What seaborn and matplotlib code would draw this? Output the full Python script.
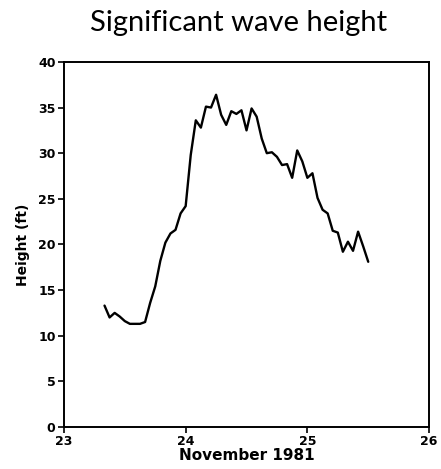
import numpy as np
import pandas as pd
import matplotlib
matplotlib.use("Agg")
import matplotlib.pyplot as plt
import seaborn as sns

# hours since 00:00 Nov 23, 1981
hours = list(range(8, 61))
height_ft = [13.3, 12.0, 12.5, 12.1, 11.6, 11.3, 11.3, 11.3, 11.5, 13.6,
             15.4, 18.2, 20.2, 21.2, 21.6, 23.4, 24.2, 29.8, 33.6, 32.8,
             35.1, 35.0, 36.4, 34.2, 33.1, 34.6, 34.3, 34.7, 32.5, 34.9,
             34.0, 31.6, 30.0, 30.1, 29.6, 28.7, 28.8, 27.3, 30.3, 29.1,
             27.3, 27.8, 25.1, 23.8, 23.4, 21.5, 21.3, 19.2, 20.3, 19.3,
             21.4, 19.8, 18.1]
x_ticks = [23, 24, 25, 26]
y_ticks = [0, 5, 10, 15, 20, 25, 30, 35, 40]

df = pd.DataFrame({"day": [23 + h / 24 for h in hours], "height": height_ft})

sns.set_style("ticks")
plt.rcParams['font.family'] = ['DejaVu Sans']
plt.rcParams['text.color'] = 'black'
plt.rcParams['axes.labelcolor'] = 'black'

fig = plt.figure(figsize=(4.41, 4.69), dpi=100)
ax = fig.add_axes([0.145, 0.0896, 0.828, 0.7784])
sns.lineplot(data=df, x="day", y="height", ax=ax, color="black", linewidth=1.7)

ax.set_xlim(23, 26)
ax.set_ylim(0, 40)
ax.set_xticks(x_ticks)
ax.set_yticks(y_ticks)
ax.set_xticklabels([str(t) for t in x_ticks], fontsize=9, fontweight="bold")
ax.set_yticklabels([str(t) for t in y_ticks], fontsize=9, fontweight="bold")
ax.tick_params(direction="out", length=4, width=1.2, colors="black", pad=2)
for s in ax.spines.values():
    s.set_visible(True)
    s.set_linewidth(1.4)
    s.set_color("black")
ax.set_xlabel("November 1981", fontsize=11, fontweight="bold", labelpad=0,
              color="black")
ax.set_ylabel("Height (ft)", fontsize=10, fontweight="bold", labelpad=6,
              color="black")
fig.text(0.54, 0.952, "Significant wave height", ha="center", va="center",
         fontsize=21, color="black", family=["Lato", "DejaVu Sans"])

fig.savefig("out.png", dpi=100)
